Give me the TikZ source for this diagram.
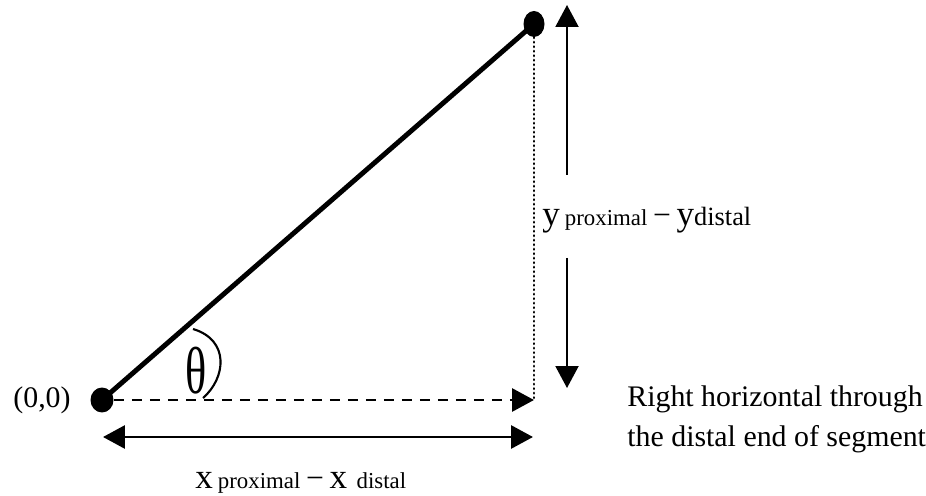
\documentclass[tikz,border=0pt]{standalone}
\usepackage{fontspec}
\setmainfont{Liberation Serif}
\usetikzlibrary{arrows.meta}

\begin{document}
\begin{tikzpicture}[x=0.02cm, y=-0.02cm,
    tip/.style={-{Triangle[length=0.44cm, width=0.46cm]}},
    txt/.style={font=\fontsize{17}{23}\selectfont, inner sep=0pt}]
    \useasboundingbox (0,0) rectangle (926,496);

    % End points of the segment and the corner
    \coordinate (O) at (102,400);
    \coordinate (D) at (534,24);
    \coordinate (C) at (534,400);

    % Segment
    \draw[line width=2.8pt] (O) -- (D);

    % Horizontal through the proximal end
    \draw[line width=1.7pt, dash pattern=on 0.2cm off 0.16cm, tip] (O) ++(12,0) coordinate (O1) -- (C);

    % Vertical through the distal end
    \draw[line width=1.5pt, dash pattern=on 0.01cm off 0.08cm, line cap=round] (D) -- (C);

    % Joints
    \fill (O) ellipse[x radius=0.23cm, y radius=0.25cm];
    \fill (D) ellipse[x radius=0.21cm, y radius=0.26cm];

    % Horizontal distance
    \coordinate (XL) at (103,437);
    \coordinate (XR) at (533,437);
    \draw[line width=1.7pt, {Triangle[length=0.44cm, width=0.46cm]}-{Triangle[length=0.44cm, width=0.46cm]}] (XL) -- (XR);

    % Vertical distance
    \coordinate (YT) at (567,5);
    \coordinate (YA) at (567,175);
    \coordinate (YB) at (567,258);
    \coordinate (YD) at (567,388);
    \draw[line width=1.2pt, tip] (YA) -- (YT);
    \draw[line width=1.2pt, tip] (YB) -- (YD);

    % Angle
    \coordinate (A1) at (203,398);
    \coordinate (A2) at (193,329);
    \draw[line width=1.2pt] (A1) .. controls (226,378) and (230,340) .. (A2);
    \node[font=\fontsize{28}{30}\selectfont, inner sep=0pt] (theta) at (196,371) {\scalebox{0.9}[1.35]{θ}};

    % Labels
    \node[txt] (orig) at (42,400) {(0,0)};
    \node[txt, anchor=base west] (ylab) at (542,226)
        {{\fontsize{20}{24}\selectfont y}\,\fontsize{13}{14}\selectfont proximal {\fontsize{18}{20}\selectfont −} {\fontsize{20}{24}\selectfont y}\fontsize{15}{17}\selectfont distal};
    \node[txt, anchor=base west] (xlab) at (195,488)
        {{\fontsize{20}{24}\selectfont x}\,\fontsize{13}{14}\selectfont proximal {\fontsize{18}{20}\selectfont −} {\fontsize{20}{24}\selectfont x}\, distal};
    \node[txt, anchor=north west, align=left] (note) at (627,385)
        {Right horizontal through\\the distal end of segment};
\end{tikzpicture}
\end{document}
